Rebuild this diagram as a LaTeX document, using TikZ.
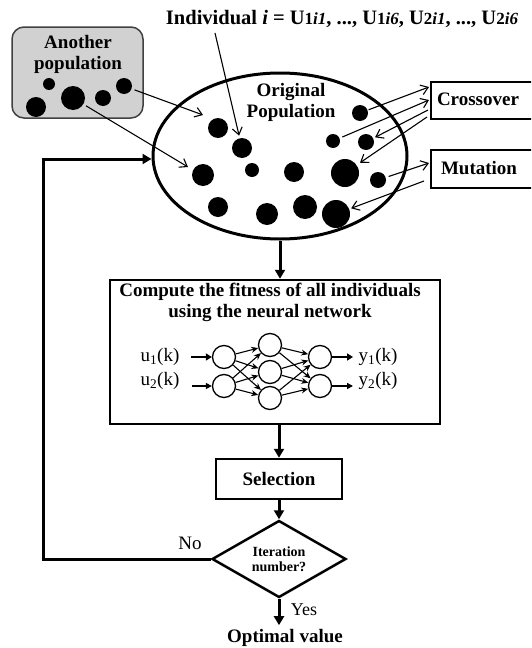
\documentclass[tikz,border=0pt]{standalone}
\usepackage{fontspec}
\setmainfont{Liberation Serif}
\usetikzlibrary{arrows.meta,shapes.geometric}
\newcommand\smidx[1]{{\fontsize{17}{20}\selectfont #1}}
\begin{document}
\begin{tikzpicture}[x=1pt,y=-1pt,
  pdot/.style={circle,fill=black,inner sep=0pt,minimum size=#1},
  neu/.style={circle,draw,line width=1.3pt,inner sep=0pt,minimum size=23pt},
  tarr/.style={line width=1.1pt,-{Straight Barb[length=7pt,width=10pt]}},
  flow/.style={line width=3pt,-{Triangle[length=9pt,width=10pt]}},
  nn/.style={line width=1.1pt,-{Stealth[length=7pt,width=6pt]}},
  inthick/.style={line width=2.6pt,-{Triangle[length=6pt,width=7pt]}},
  inthin/.style={line width=1.5pt,-{Triangle[length=6pt,width=6pt]}},
  lbl/.style={font=\fontsize{19}{21}\selectfont\bfseries,align=center,inner sep=0pt},
  reg/.style={font=\fontsize{19}{21}\selectfont,inner sep=0pt},
  sidebox/.style={draw,line width=1.5pt,minimum width=109pt,inner sep=0pt},
]
\useasboundingbox (0,0) rectangle (531,648);
\clip (0,0) rectangle (531,648);

% title
\node[font=\fontsize{20.5}{24}\selectfont\bfseries,inner sep=0pt,anchor=base] (title) at (342,24)
  {Individual \textit{i} = U\smidx{1\textit{i1}}, ...,\ U\smidx{1\textit{i6}}, U\smidx{2\textit{i1}}, ...,\ U\smidx{2\textit{i6}}};

% another population
\node[draw=black!75,fill=black!18,rounded corners=12pt,line width=1.5pt,minimum width=131pt,minimum height=91pt] (ap) at (77.5,72.5) {};
\node[lbl] (apt) at (78,54) {Another\\population};
\node[pdot=12pt] (a1) at (49,84) {};
\node[pdot=20pt] (a2) at (36,107) {};
\node[pdot=24pt] (a3) at (73,98) {};
\node[pdot=16pt] (a4) at (103,98) {};
\node[pdot=16pt] (a5) at (124,86) {};

% original population
\node[ellipse,draw,line width=3pt,minimum width=254pt,minimum height=166pt,inner sep=0pt] (pop) at (280,156) {};
\node[lbl] (popt) at (291,102) {Original\\Population};
\node[pdot=20pt] (p1) at (218,128) {};
\node[pdot=20pt] (p2) at (242,148) {};
\node[pdot=14pt] (p3) at (252,170) {};
\node[pdot=22pt] (p4) at (203,175) {};
\node[pdot=20pt] (p5) at (294,172) {};
\node[pdot=16pt] (p6) at (360,113) {};
\node[pdot=14pt] (p7) at (333,141) {};
\node[pdot=16pt] (p8) at (366,142) {};
\node[pdot=28pt] (p9) at (345,173) {};
\node[pdot=16pt] (p10) at (378,180) {};
\node[pdot=20pt] (p11) at (218,207) {};
\node[pdot=22pt] (p12) at (267,214) {};
\node[pdot=24pt] (p13) at (305,207) {};
\node[pdot=28pt] (p14) at (336,214) {};

% side boxes
\node[sidebox,minimum height=37pt] (cross) at (485.5,100.5) {};
\node[lbl] (crosst) at (478,99) {Crossover};
\node[sidebox,minimum height=38pt] (mut) at (485.5,169) {};
\node[lbl] (mutt) at (479,168) {Mutation};

% thin arrows
\coordinate (tA) at (215,33);
\draw[tarr,shorten >=2.5pt] (tA) -- (p2);
\coordinate (tB) at (203,115);
\draw[tarr,shorten <=3pt] (a5) -- (tB);
\coordinate (tC) at (188,167);
\draw[tarr,shorten <=3pt] (a3) -- (tC);
\coordinate (cx1) at (429,87);
\coordinate (cx2) at (429,100);
\coordinate (cx3) at (428,110);
\coordinate (cx4) at (427,117);
\draw[tarr,shorten <=1pt] (p6) -- (cx1);
\draw[tarr,shorten <=3pt] (p7) -- (cx2);
\draw[tarr,shorten >=2pt] (cx3) -- (p8);
\draw[tarr,shorten >=4pt] (cx4) -- (p9);
\coordinate (mx1) at (429,163);
\coordinate (mx2) at (424,181);
\draw[tarr,shorten <=3pt] (p10) -- (mx1);
\draw[tarr,shorten >=2pt] (mx2) -- (p14);

% compute box
\node[draw,line width=2.5pt,minimum width=330pt,minimum height=144pt] (cb) at (275,352) {};
\node[lbl] (cbt) at (270,302) {Compute the fitness of all individuals\\using the neural network};

% neural network
\node[neu] (i1) at (224,357) {};
\node[neu] (i2) at (224,386) {};
\node[neu] (h1) at (270,345) {};
\node[neu] (h2) at (270,372) {};
\node[neu] (h3) at (270,398) {};
\node[neu] (o1) at (320,357) {};
\node[neu] (o2) at (320,386) {};
\foreach \a in {i1,i2} \foreach \b in {h1,h2,h3} \draw[nn] (\a) -- (\b);
\foreach \a in {h1,h2,h3} \foreach \b in {o1,o2} \draw[nn] (\a) -- (\b);
\node[reg] (u1) at (160,357) {u\textsubscript{1}(k)};
\node[reg] (u2) at (160,381) {u\textsubscript{2}(k)};
\node[reg] (y1) at (378,357) {y\textsubscript{1}(k)};
\node[reg] (y2) at (378,381) {y\textsubscript{2}(k)};
\coordinate (ua) at (191,357);
\coordinate (ub) at (192,386);
\coordinate (ya) at (353,357);
\coordinate (yb) at (353,386);
\draw[inthick] (ua) -- (i1);
\draw[inthin] (ub) -- (i2);
\draw[inthick] (o1) -- (ya);
\draw[inthin] (o2) -- (yb);

% selection and decision
\node[lbl,draw,line width=2.5pt,minimum width=126pt,minimum height=40pt] (sel) at (279,479) {Selection};
\node[diamond,draw,line width=2.5pt,minimum width=134pt,minimum height=77pt,shape aspect=1.74,inner sep=0pt,align=center,font=\fontsize{14}{15.5}\selectfont\bfseries] (dia) at (279,559) {Iteration\\number?};
\node[lbl] (opt) at (285,638) {Optimal value};
\node[reg] (no) at (190,543) {No};
\node[reg,font=\fontsize{18}{20}\selectfont] (yes) at (304,610) {Yes};

% flow arrows
\draw[flow] (pop.south) -- (pop.south |- cb.north);
\draw[flow] (sel.north |- cb.south) -- (sel.north);
\draw[flow] (sel.south) -- (dia.north);
\draw[flow,shorten >=4pt] (dia.south) -- (dia.south |- opt.north);
\coordinate (fbl) at (43,159);
\draw[flow] (dia.west) -| (fbl) -- (fbl -| pop.west);
\end{tikzpicture}
\end{document}
